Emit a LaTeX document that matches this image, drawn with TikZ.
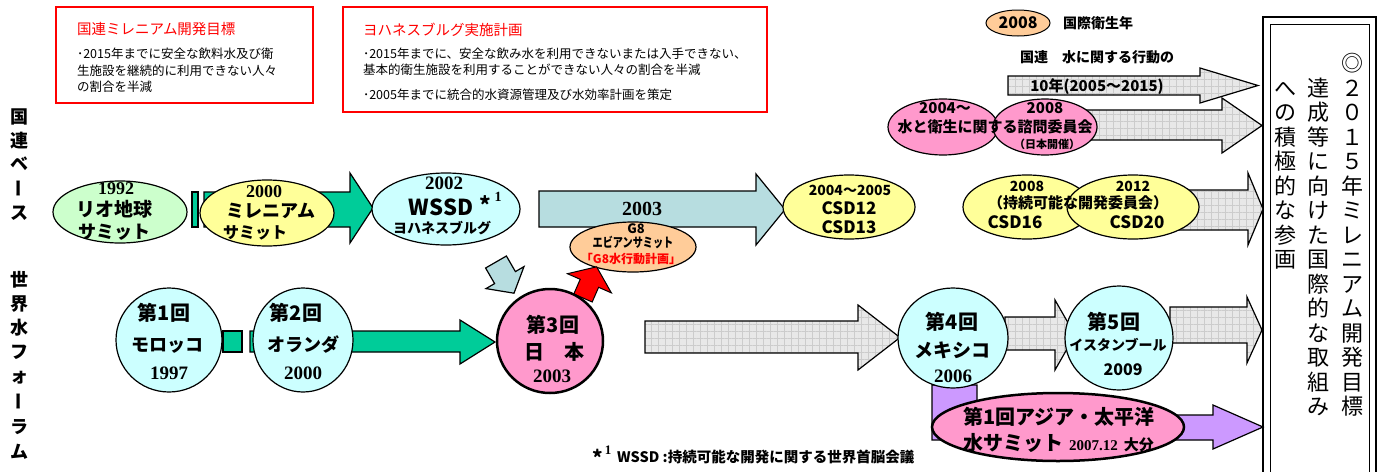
\documentclass[tikz,border=0pt]{standalone}
\usepackage{fontspec}
\setmainfont{Noto Sans CJK JP}
\newfontfamily\tms{Liberation Serif}
\usetikzlibrary{shapes.geometric,patterns.meta}
\newcommand\fs[1]{\fontsize{#1}{#1}\selectfont}
\newcommand\txb[6][]{\node[inner sep=0,outer sep=0,anchor=base,font=\fs{#5}\bfseries,#1] (#2) at (#3,{#4+0.37*#5}) {#6};}
\newcommand\txr[6][]{\node[inner sep=0,outer sep=0,anchor=base,font=\fs{#5},#1] (#2) at (#3,{#4+0.37*#5}) {#6};}
\newcommand\barrow[8]{\path[#1] (#2,#5) -- (#3,#5) -- (#3,#7) -- (#4,{(#7+#8)/2}) -- (#3,#8) -- (#3,#6) -- (#2,#6) -- cycle;}
\definecolor{grn}{HTML}{00CC99}
\definecolor{lgrn}{HTML}{CCFFCC}
\definecolor{lyel}{HTML}{FFFF99}
\definecolor{lcyan}{HTML}{CCFFFF}
\definecolor{pnk}{HTML}{FF99CC}
\definecolor{lorg}{HTML}{FFCC99}
\definecolor{lblue}{HTML}{B7DDE0}
\definecolor{purp}{HTML}{CC99FF}
\begin{document}
\begin{tikzpicture}[x=1pt,y=-1pt,
  ell/.style={ellipse,draw=black,line width=1.2pt,inner sep=0},
  redbox/.style={draw=red,line width=2pt,inner sep=0},
  greenar/.style={draw=black,line width=1.2pt,fill=grn},
  bluear/.style={draw=black,line width=1.2pt,fill=lblue},
  redar/.style={draw=black,line width=1pt,fill=red},
  purpar/.style={draw=black,line width=1.2pt,fill=purp},
  grayar/.style={draw=black,line width=1.2pt,preaction={fill=gray!18},
    preaction={pattern={Lines[angle=0,distance=7pt,line width=0.4pt]},pattern color=gray!40},
    preaction={pattern={Lines[angle=90,distance=7pt,line width=0.4pt]},pattern color=gray!40}},
  vbar/.style={inner sep=0,rotate=90,text height=15.8pt,text depth=2.2pt,font=\fs{18}\bfseries}
]
\useasboundingbox (0,0) rectangle (1378,471);
\fill[white] (0,0) rectangle (1378,471);

% red boxes
\node[redbox,minimum width=257pt,minimum height=96pt] (box1) at (184.5,55) {};
\txr[anchor=base west,text=red]{b1t}{77}{29}{14.5}{国連ミレニアム開発目標}
\txr[anchor=base west]{b1a}{77}{54}{12.5}{･2015年までに安全な飲料水及び衛}
\txr[anchor=base west]{b1b}{77}{71}{12.5}{生施設を継続的に利用できない人々}
\txr[anchor=base west]{b1c}{77}{87}{12.5}{の割合を半減}
\node[redbox,minimum width=424pt,minimum height=105pt] (box2) at (555,59.5) {};
\txr[anchor=base west,text=red]{b2t}{363}{30}{14.5}{ヨハネスブルグ実施計画}
\txr[anchor=base west]{b2a}{363}{54}{12.5}{･2015年までに、安全な飲み水を利用できないまたは入手できない、}
\txr[anchor=base west]{b2b}{363}{70}{12.5}{基本的衛生施設を利用することができない人々の割合を半減}
\txr[anchor=base west]{b2c}{363}{95}{12.5}{･2005年までに統合的水資源管理及び水効率計画を策定}

% left vertical labels
\txb{lu1}{19}{117}{18}{国}
\txb{lu2}{19}{141}{18}{連}
\txb{lu3}{19}{164}{18}{ベ}
\node[vbar] (lu4) at (19,188) {ー};
\txb{lu5}{19}{213}{18}{ス}
\txb{lw1}{19}{280}{18}{世}
\txb{lw2}{19}{304}{18}{界}
\txb{lw3}{19}{328}{18}{水}
\txb{lw4}{19}{352}{18}{フ}
\txb{lw5}{19}{376}{18}{ォ}
\node[vbar] (lw6) at (19,401) {ー};
\txb{lw7}{19}{427}{18}{ラ}
\txb{lw8}{19}{452}{18}{ム}

% right frame
\draw[line width=1.6pt] (1263,17) rectangle (1376,480);
\draw[line width=1pt] (1270,24) rectangle (1369,480);
\foreach \c [count=\i] in {◎,２,０,１,５,年,ミ,レ,ニ,ア,ム,開,発,目,標}{\txr{va\i}{1352}{63.5+(\i-1)*24.5}{22}{\c}}
\foreach \c [count=\i] in {達,成,等,に,向,け,た,国,際,的,な,取,組,み}{\txr{vb\i}{1318}{88+(\i-1)*24.5}{22}{\c}}
\foreach \c [count=\i] in {へ,の,積,極,的,な,参,画}{\txr{vc\i}{1285}{88+(\i-1)*24.5}{22}{\c}}

% top right
\node[ell,line width=1pt,fill=lorg,minimum width=64pt,minimum height=26pt] (e2008) at (1018,23) {};
\txb{t2008}{1018}{23}{16}{2008}
\txb{teisei}{1098}{23}{14}{国際衛生年}
\txb{tkoudou}{1097}{57}{14}{国連　水に関する行動の}
\barrow{grayar}{1008}{1200}{1258}{76}{95}{68}{103}
\txb{t10}{1097}{86}{15}{10年(2005～2015)}
\barrow{grayar}{1040}{1222}{1262}{110}{140}{98}{153}
\node[ell,fill=pnk,minimum width=110pt,minimum height=56pt] (p1) at (943,127) {};
\node[ell,fill=pnk,minimum width=104pt,minimum height=56pt] (p2) at (1045,127) {};
\txb{p1a}{945}{108}{15}{2004～}
\txb{p2a}{1045}{108}{15}{2008}
\txb{p12}{995}{127}{15}{水と衛生に関する諮問委員会}
\txb{p2c}{1047}{144}{11}{（日本開催）}

% CSD16 / CSD20
\barrow{grayar}{1150}{1248}{1263}{190}{230}{173}{245}
\node[ell,fill=lyel,minimum width=128pt,minimum height=64pt] (csd16) at (1027,207) {};
\node[ell,fill=lyel,minimum width=132pt,minimum height=64pt] (csd20) at (1133,207) {};
\txb{c16a}{1027}{186}{14}{2008}
\txb{c20a}{1133}{186}{14}{2012}
\txb{c1620}{1078}{203}{15}{（持続可能な開発委員会）}
\txb{c16b}{1015}{222}{17}{CSD16}
\txb{c20b}{1137}{222}{17}{CSD20}

% row 1
\node[draw=black,line width=1.2pt,fill=grn,inner sep=0,minimum width=6pt,minimum height=35pt] (gbar1) at (195,209.5) {};
\barrow{greenar}{204}{350}{373}{192}{227}{173}{243}
\node[ell,fill=lgrn,minimum width=134pt,minimum height=62pt] (rio) at (120,212) {};
\txb{rio1}{116}{188}{18}{\tms 1992}
\txb{rio2}{114}{209}{19}{リオ地球}
\txb{rio3}{114}{232}{18}{サミット}
\node[ell,fill=lyel,minimum width=134pt,minimum height=66pt] (mil) at (267,213) {};
\txb{mil1}{264}{191}{18}{\tms 2000}
\txb{mil2}{271}{211}{18}{ミレニアム}
\txb{mil3}{255}{233}{16}{サミット}
\node[ell,fill=lcyan,minimum width=148pt,minimum height=72pt] (wssd) at (446,209) {};
\txb{ws1}{444}{182}{19}{\tms 2002}
\txb{ws2}{441}{207}{22}{WSSD}
\txb{ws3}{485}{205}{22}{*}
\txb{ws4}{498}{196}{14}{\tms 1}
\txb{ws5}{442}{228}{14}{ヨハネスブルグ}
\barrow{bluear}{539}{756}{785}{191}{227}{174}{245}
\txb{t2003}{642}{208}{20}{\tms 2003}
\node[ell,fill=lyel,minimum width=132pt,minimum height=64pt] (csd12) at (849,207) {};
\txb{cs1}{850}{190}{14}{2004～2005}
\txb{cs2}{849}{208}{17}{CSD12}
\txb{cs3}{849}{227}{17}{CSD13}
\node[ell,fill=lorg,minimum width=126pt,minimum height=50pt] (g8) at (633,247) {};
\txb{g8a}{636}{229}{13}{G8}
\txb{g8b}{633}{243}{13}{\scalebox{0.78}[1]{エビアンサミット}}
\txb[text=red]{g8c}{631}{259}{12}{「G8水行動計画」}
\path[bluear] (506.4,256) -- (515.4,271.6) -- (524,266.6) -- (514,293.2) -- (486,288.6) -- (494.6,283.6) -- (485.6,268) -- cycle;
\path[redar] (592.2,302) -- (598.6,287.3) -- (611.4,292.9) -- (596.6,266.8) -- (567.4,273.7) -- (580.2,279.3) -- (573.8,294) -- cycle;

% row 2
\node[draw=black,line width=1.2pt,fill=grn,inner sep=0,minimum width=19pt,minimum height=21pt] (gbar2) at (232.5,341.5) {};
\barrow{greenar}{250}{460}{495}{331}{352}{320}{364}
\node[ell,fill=lcyan,minimum width=106pt,minimum height=104pt] (f1) at (169,340) {};
\txb{f1a}{164}{313}{20}{第1回}
\txb{f1b}{167}{345}{18}{モロッコ}
\txb{f1c}{169}{372}{19}{\tms 1997}
\node[ell,fill=lcyan,minimum width=100pt,minimum height=104pt] (f2) at (303,340) {};
\txb{f2a}{296}{313}{20}{第2回}
\txb{f2b}{303}{345}{18}{オランダ}
\txb{f2c}{303}{372}{19}{\tms 2000}
\node[ell,line width=2.5pt,fill=pnk,minimum width=106pt,minimum height=104pt] (f3) at (550,341) {};
\txb{f3a}{553}{325}{20}{第3回}
\txb{f3b}{554}{352}{20}{日　本}
\txb{f3c}{552}{375}{19}{\tms 2003}
\barrow{grayar}{645}{858}{900}{321}{353}{305}{370}
\barrow{grayar}{1005}{1055}{1075}{317}{350}{300}{370}
\barrow{grayar}{1170}{1247}{1262}{307}{343}{297}{363}
\path[purpar] (932,385) -- (977,385) -- (977,415) -- (1213,415) -- (1213,405) -- (1263,427) -- (1213,449) -- (1213,440) -- (932,440) -- cycle;
\node[ell,fill=lcyan,minimum width=110pt,minimum height=100pt] (f4) at (953,338) {};
\txb{f4a}{952}{322}{20}{第4回}
\txb{f4b}{952}{350}{19}{メキシコ}
\txb{f4c}{953}{375}{19}{\tms 2006}
\node[ell,fill=lcyan,minimum width=108pt,minimum height=104pt] (f5) at (1119,338) {};
\txb{f5a}{1114}{322}{20}{第5回}
\txb{f5b}{1118}{345}{14}{イスタンブール}
\txb{f5c}{1123}{370}{16}{2009}
\node[ell,line width=2.5pt,fill=pnk,minimum width=252pt,minimum height=68pt] (asia) at (1058,427) {};
\txb[anchor=base west]{as1}{963}{417}{20}{第1回アジア・太平洋}
\txb[anchor=base west]{as2}{963}{443}{20}{水サミット\hspace{6pt}{\fs{15}\tms 2007.12}\hspace{6pt}{\fs{15}大分}}

% footnote
\txb{fn1}{598}{458}{20}{*}
\txb{fn2}{608}{450}{13}{\tms 1}
\txb[anchor=base west]{fn3}{617}{457}{14.5}{WSSD :持続可能な開発に関する世界首脳会議}
\end{tikzpicture}
\end{document}
